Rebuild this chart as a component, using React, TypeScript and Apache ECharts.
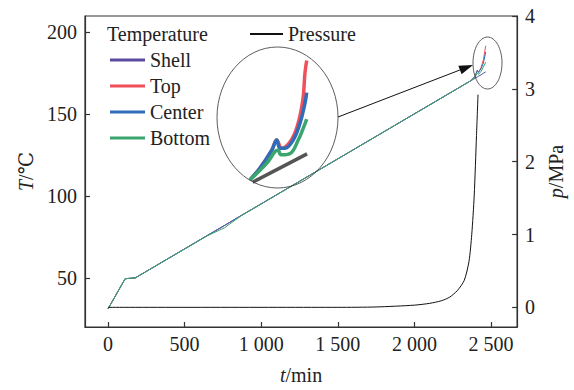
import React, { useEffect, useRef } from "react";
import * as echarts from "echarts";

// ---- Main data (time in min, temperature in °C, pressure in MPa) ----
const timeMain = [0, 112, 178, 650, 760, 870, 2365, 2395, 2410, 2418, 2435, 2450, 2465];
const shellTemp = [31, 49.5, 50, 76.0, 82.0, 88.1, 170.3, 171.9, 172.8, 173.2, 174.1, 175.0, 175.8];
const topTemp = [31, 49.5, 50, 76.0, 82.0, 88.1, 170.3, 173.0, 176.8, 175.5, 178.6, 183.2, 191.8];
const centerTemp = [31, 49.5, 50, 76.0, 82.0, 88.1, 170.3, 173.0, 176.8, 175.5, 177.8, 181.2, 188.0];
const bottomTemp = [31, 49.5, 50, 75.8, 80.6, 88.0, 170.3, 172.5, 175.3, 174.3, 176.2, 178.8, 181.8];

const pressureTime = [0, 1500, 1750, 2000, 2100, 2175, 2230, 2280, 2325, 2356, 2374, 2390, 2405, 2415];
const pressureVal = [0, 0, 0.005, 0.03, 0.055, 0.09, 0.14, 0.23, 0.37, 0.63, 1.0, 1.53, 2.36, 2.92];

// ---- Magnified inset data (same units) ----
const insetShellTime = [2386, 2463];
const insetShellTemp = [168.6, 174.7];
const insetBottomTime = [2382, 2406, 2417.5, 2422, 2426, 2439, 2450.5, 2457.5, 2462.5];
const insetBottomTemp = [169.1, 172.7, 175.2, 175.5, 174.5, 174.8, 177.7, 180.2, 182.2];
const insetCenterTime = [2382, 2396, 2413, 2420, 2424.5, 2431.5, 2443.5, 2453, 2460, 2462.5];
const insetCenterTemp = [169.1, 171.6, 175.5, 177.7, 175.9, 175.9, 177.7, 181.3, 185.6, 187.9];
const insetTopTime = [2382, 2396, 2413, 2420, 2427, 2439, 2449, 2457, 2460, 2462.5];
const insetTopTemp = [169.1, 171.6, 175.5, 177.7, 175.9, 177.3, 180.6, 186.3, 192.1, 194.8];

const xTicks = [0, 500, 1000, 1500, 2000, 2500];
const tTicks = [50, 100, 150, 200];
const pTicks = [0, 1, 2, 3, 4];

const seriesNames = ["Shell", "Top", "Center", "Bottom"];
const colors = { Shell: "#5a4aa0", Top: "#f0505a", Center: "#2f6db8", Bottom: "#3aa66e" };

const zip = (xs: number[], ys: number[]) => xs.map((x, i) => [x, ys[i]]);
const FONT = "'Liberation Serif', 'Times New Roman', 'DejaVu Serif', serif";

export default function App() {
  const ref = useRef<HTMLDivElement>(null);
  useEffect(() => {
    if (!ref.current) return;
    const chart = echarts.init(ref.current, null, { renderer: "svg" });
    const axisLine = { show: true, onZero: false, lineStyle: { color: "#333", width: 1.2 } };
    const tick = { show: true, inside: true, length: 5, lineStyle: { color: "#333", width: 1.2 } };
    const lab = { color: "#222", fontFamily: FONT, fontSize: 20 };
    const fmt = (v: number) => String(v).replace(/\B(?=(\d{3})+(?!\d))/g, " ");

    const mainTemps = [shellTemp, topTemp, centerTemp, bottomTemp];
    const series: any[] = seriesNames.map((n, i) => ({
      name: n,
      type: "line",
      data: zip(timeMain, mainTemps[i]),
      showSymbol: false,
      lineStyle: { width: 1, color: (colors as any)[n] },
      itemStyle: { color: (colors as any)[n] },
      xAxisIndex: 0,
      yAxisIndex: 0,
    }));
    series.push({
      name: "Pressure",
      type: "line",
      data: zip(pressureTime, pressureVal),
      showSymbol: false,
      smooth: 0.25,
      lineStyle: { width: 1, color: "#111" },
      itemStyle: { color: "#111" },
      xAxisIndex: 0,
      yAxisIndex: 1,
    });
    const insetDefs: [string, number[], number[], string][] = [
      ["ShellZoom", insetShellTime, insetShellTemp, "#555"],
      ["TopZoom", insetTopTime, insetTopTemp, colors.Top],
      ["CenterZoom", insetCenterTime, insetCenterTemp, colors.Center],
      ["BottomZoom", insetBottomTime, insetBottomTemp, colors.Bottom],
    ];
    insetDefs.forEach(([n, xs, ys, c]) =>
      series.push({
        name: n,
        type: "line",
        data: zip(xs, ys),
        showSymbol: false,
        smooth: 0.4,
        clip: false,
        lineStyle: { width: 3.5, color: c },
        itemStyle: { color: c },
        xAxisIndex: 1,
        yAxisIndex: 2,
      })
    );

    const tip = [473, 65];
    const base = [459.9, 70.0];

    chart.setOption({
      animation: false,
      backgroundColor: "#fff",
      textStyle: { fontFamily: FONT },
      grid: [
        { left: 85, right: 50, top: 16, bottom: 56, show: true, borderColor: "#333", borderWidth: 1.2, backgroundColor: "transparent" },
        { left: 245, top: 55, width: 67, height: 130, show: false },
      ],
      xAxis: [
        {
          type: "value",
          gridIndex: 0,
          min: -150,
          max: 2670,
          name: "{i|t}/min",
          nameLocation: "middle",
          nameGap: 38,
          nameTextStyle: { ...lab, rich: { i: { ...lab, fontStyle: "italic" } } },
          axisLine,
          axisTick: { ...tick, customValues: xTicks },
          axisLabel: { ...lab, margin: 7, customValues: xTicks, formatter: fmt },
          splitLine: { show: false },
        },
        { type: "value", gridIndex: 1, min: 2375, max: 2470, show: false },
      ],
      yAxis: [
        {
          type: "value",
          gridIndex: 0,
          min: 20,
          max: 210,
          name: "{i|T}/℃",
          nameLocation: "middle",
          nameRotate: 90,
          nameGap: 40,
          nameTextStyle: { ...lab, rich: { i: { ...lab, fontStyle: "italic" } } },
          axisLine,
          axisTick: { ...tick, customValues: tTicks },
          axisLabel: { ...lab, margin: 8, customValues: tTicks },
          splitLine: { show: false },
        },
        {
          type: "value",
          gridIndex: 0,
          position: "right",
          min: -0.27,
          max: 4,
          name: "{i|p}/MPa",
          nameLocation: "middle",
          nameRotate: 90,
          nameGap: 24,
          nameTextStyle: { ...lab, rich: { i: { ...lab, fontStyle: "italic" } } },
          axisLine,
          axisTick: { ...tick, customValues: pTicks },
          axisLabel: { ...lab, margin: 8, customValues: pTicks },
          splitLine: { show: false },
        },
        { type: "value", gridIndex: 1, min: 168, max: 196, show: false },
      ],
      legend: [
        {
          data: seriesNames,
          orient: "vertical",
          left: 105,
          top: 45,
          itemWidth: 35,
          itemHeight: 3,
          itemGap: 6,
          icon: "rect",
          textStyle: { ...lab, lineHeight: 19, padding: [0, 0, 0, 0] },
          selectedMode: false,
        },
        {
          data: ["Pressure"],
          left: 245,
          top: 19,
          itemWidth: 33,
          itemHeight: 2,
          icon: "rect",
          textStyle: { ...lab, lineHeight: 19, padding: [0, 0, 0, 0] },
          selectedMode: false,
        },
      ],
      graphic: [
        { type: "text", left: 107, top: 24, style: { text: "Temperature", fontFamily: FONT, fontSize: 20, fill: "#222" } },
        { type: "ellipse", shape: { cx: 277.5, cy: 117.5, rx: 60.5, ry: 70.5 }, style: { fill: "none", stroke: "#333", lineWidth: 0.8 }, z: 10 },
        { type: "ellipse", shape: { cx: 487.5, cy: 63, rx: 14.5, ry: 26 }, style: { fill: "none", stroke: "#333", lineWidth: 0.8 }, z: 10 },
        { type: "line", shape: { x1: 338, y1: 117, x2: base[0], y2: base[1] }, style: { stroke: "#111", lineWidth: 1 }, z: 10 },
        {
          type: "polygon",
          shape: { points: [tip, [461.6, 74.2], [458.3, 65.8]] },
          style: { fill: "#111" },
          z: 10,
        },
      ],
      series,
    });
    return () => chart.dispose();
  }, []);
  return <div ref={ref} style={{ position: "fixed", left: 0, top: 0, width: 574, height: 390 }} />;
}
